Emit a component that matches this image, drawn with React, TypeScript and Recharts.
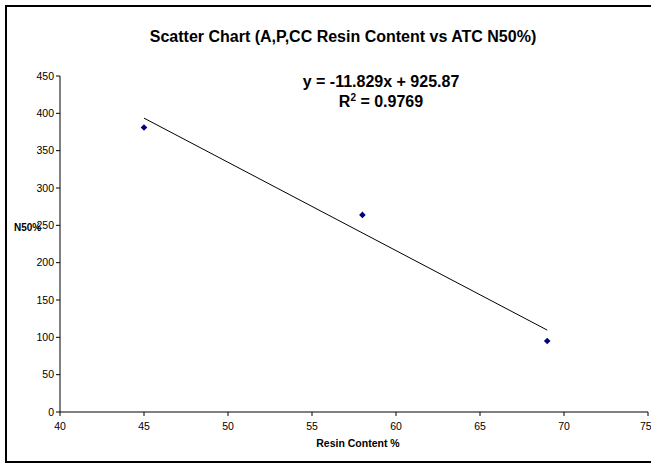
import React from "react";
import {
  ScatterChart,
  Scatter,
  XAxis,
  YAxis,
} from "recharts";

// measured points (Resin Content %, N50%)
const resinContent = [45, 58, 69];
const n50 = [381, 264, 95];

// linear trendline endpoints, y = -11.829x + 925.87
const trendX = [45, 69];
const trendY = [393.6, 109.7];

const xTicks = [40, 45, 50, 55, 60, 65, 70, 75];
const yTicks = [0, 50, 100, 150, 200, 250, 300, 350, 400, 450];

const points = resinContent.map((x, i) => ({ x, y: n50[i] }));
const trend = trendX.map((x, i) => ({ x, y: trendY[i] }));

const FONT = '"Liberation Sans", Arial, sans-serif';

const Diamond = (props: any) => {
  const { cx, cy } = props;
  if (cx == null || cy == null) return null;
  const r = 3.3;
  return (
    <polygon
      points={`${cx},${cy - r} ${cx + r},${cy} ${cx},${cy + r} ${cx - r},${cy}`}
      fill="#000080"
    />
  );
};

export default function App() {
  return (
    <div
      style={{
        position: "absolute",
        left: 0,
        top: 0,
        width: 651,
        height: 464,
        overflow: "hidden",
        background: "#fff",
        fontFamily: FONT,
      }}
    >
      <div
        style={{
          position: "absolute",
          left: 5,
          top: 5,
          width: 700,
          height: 454,
          border: "2px solid #000",
        }}
      />
      <ScatterChart
        width={651}
        height={464}
        margin={{ top: 76, right: 3, left: 0, bottom: 0 }}
        style={{ position: "absolute", left: 0, top: 0 }}
      >
        <XAxis
          type="number"
          dataKey="x"
          domain={[40, 75]}
          ticks={xTicks}
          allowDataOverflow
          height={52}
          tickSize={4}
          tickMargin={7}
          stroke="#808080"
          strokeWidth={2}
          tick={{ fill: "#000", fontSize: 10.5, fontFamily: FONT }}
          tickLine={{ stroke: "#000", strokeWidth: 1 }}
        />
        <YAxis
          type="number"
          dataKey="y"
          domain={[0, 450]}
          ticks={yTicks}
          allowDataOverflow
          width={60}
          tickSize={4}
          tickMargin={2}
          stroke="#000"
          tick={{ fill: "#000", fontSize: 10.5, fontFamily: FONT }}
        />
        <Scatter
          data={trend}
          line={{ stroke: "#000", strokeWidth: 1 }}
          lineType="joint"
          shape={() => null}
          isAnimationActive={false}
        />
        <Scatter data={points} shape={Diamond} isAnimationActive={false} />
      </ScatterChart>
      <div
        style={{
          position: "absolute",
          left: 93,
          width: 500,
          top: 28,
          textAlign: "center",
          fontSize: 16,
          fontWeight: "bold",
          lineHeight: "18px",
          whiteSpace: "nowrap",
        }}
      >
        Scatter Chart (A,P,CC Resin Content vs ATC N50%)
      </div>
      <div
        style={{
          position: "absolute",
          left: 261,
          width: 240,
          top: 72,
          textAlign: "center",
          fontSize: 16,
          fontWeight: "bold",
          lineHeight: "20px",
          whiteSpace: "nowrap",
        }}
      >
        <div>y = -11.829x + 925.87</div>
        <div>
          R<sup style={{ fontSize: 10, lineHeight: 0 }}>2</sup> = 0.9769
        </div>
      </div>
      <div
        style={{
          position: "absolute",
          left: 258,
          width: 200,
          top: 437,
          textAlign: "center",
          fontSize: 10.5,
          fontWeight: "bold",
          lineHeight: "12px",
        }}
      >
        Resin Content %
      </div>
      <div
        style={{
          position: "absolute",
          left: 14,
          top: 222,
          fontSize: 10,
          fontWeight: "bold",
          lineHeight: "12px",
        }}
      >
        N50%
      </div>
    </div>
  );
}
